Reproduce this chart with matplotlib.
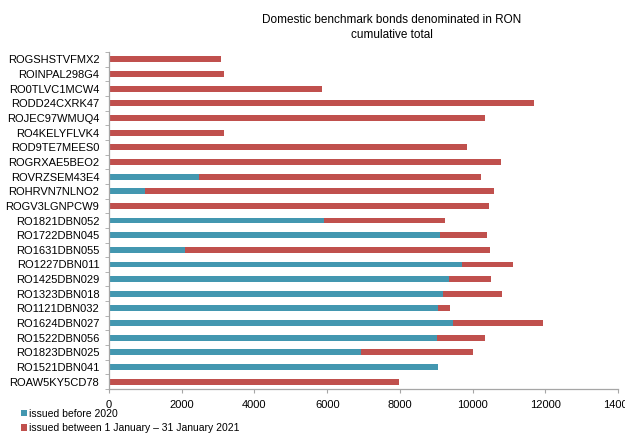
import numpy as np
import matplotlib.pyplot as plt

plt.rcParams['font.family'] = ['Liberation Sans', 'DejaVu Sans']

# bonds listed top to bottom
bonds = [
    'ROGSHSTVFMX2', 'ROINPAL298G4', 'RO0TLVC1MCW4', 'RODD24CXRK47',
    'ROJEC97WMUQ4', 'RO4KELYFLVK4', 'ROD9TE7MEES0', 'ROGRXAE5BEO2',
    'ROVRZSEM43E4', 'ROHRVN7NLNO2', 'ROGV3LGNPCW9', 'RO1821DBN052',
    'RO1722DBN045', 'RO1631DBN055', 'RO1227DBN011', 'RO1425DBN029',
    'RO1323DBN018', 'RO1121DBN032', 'RO1624DBN027', 'RO1522DBN056',
    'RO1823DBN025', 'RO1521DBN041', 'ROAW5KY5CD78',
]
before_2020 = [0, 0, 0, 0, 0, 0, 0, 0, 2480, 1000, 0, 5910,
               9100, 2100, 9710, 9360, 9180, 9050, 9450, 9010, 6930, 9040, 0]
jan_2021 = [3070, 3150, 5860, 11700, 10330, 3160, 9850, 10790,
            7740, 9600, 10440, 3320, 1300, 8370, 1400, 1150, 1620, 340,
            2480, 1330, 3090, 0, 7980]

label_before = 'issued before 2020'
label_jan = 'issued between 1 January \u2013 31 January 2021'

TEAL = '#4397B0'
RED = '#C0504D'
AXIS = '#A6A6A6'

fig = plt.figure(figsize=(6.25, 4.34), dpi=100)
ax = fig.add_axes([0.1744, 0.1037, 0.8146, 0.7763])

y = np.arange(len(bonds))
ax.barh(y, before_2020, height=0.4, color=TEAL, label=label_before)
ax.barh(y, jan_2021, left=before_2020, height=0.4, color=RED, label=label_jan)

ax.set_ylim(len(bonds) - 0.5, -0.5)
ax.set_xlim(0, 14000)
ax.set_xticks(np.arange(0, 14001, 2000))
ax.set_yticks(y)
ax.set_yticklabels(bonds)
ax.set_yticks(np.arange(-0.5, len(bonds), 1), minor=True)

for s in ['top', 'right']:
    ax.spines[s].set_visible(False)
for s in ['left', 'bottom']:
    ax.spines[s].set_color(AXIS)
    ax.spines[s].set_linewidth(0.9)

ax.tick_params(axis='y', which='major', length=0, labelsize=8, pad=7)
ax.tick_params(axis='y', which='minor', length=3, color=AXIS)
ax.tick_params(axis='x', length=3, color=AXIS, labelsize=8, pad=5)

fig.text(0.627, 0.968, 'Domestic benchmark bonds denominated in RON\ncumulative total',
         ha='center', va='top', fontsize=8.5, linespacing=1.3)

fig.legend(loc='lower left', bbox_to_anchor=(0.027, -0.008), frameon=False,
           fontsize=7.5, handlelength=0.6, handleheight=0.6, handletextpad=0.2,
           labelspacing=0.45, borderaxespad=0)

fig.savefig('out.png', dpi=100)
